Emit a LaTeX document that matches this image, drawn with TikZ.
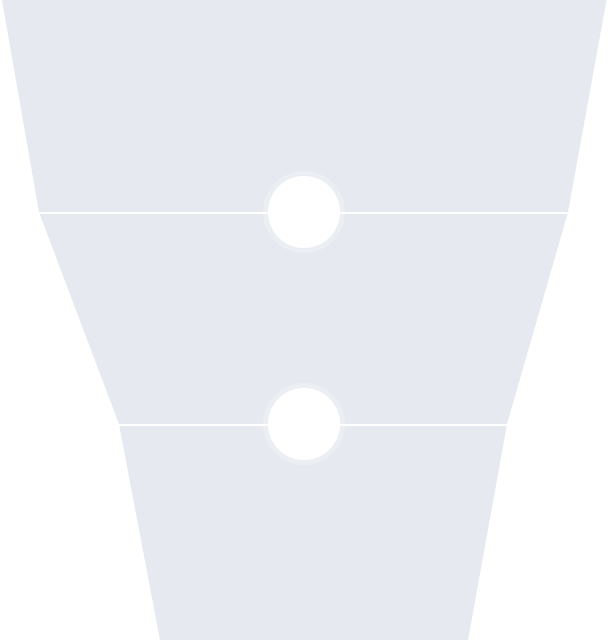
\documentclass[tikz,border=0pt]{standalone}
\definecolor{segfill}{HTML}{E6E9EF}
\definecolor{halo}{HTML}{EBEEF3}
\tikzset{
  seg/.style={fill=segfill, draw=none},
  sepline/.style={draw=white, line width=2pt},
  halocircle/.style={circle, fill=halo, minimum size=82pt, inner sep=0pt, draw=none},
  dot/.style={circle, fill=white, minimum size=72pt, inner sep=0pt, draw=none}
}
\begin{document}
\begin{tikzpicture}[x=1pt,y=-1pt]
\useasboundingbox (0,0) rectangle (608,640);
\fill[seg] (2,0) -- (606.5,0) -- (568,212) -- (39,212) -- cycle;
\fill[seg] (39,212) -- (568,212) -- (507,424) -- (119,424) -- cycle;
\fill[seg] (119,424) -- (507,424) -- (468,640) -- (160,640) -- cycle;
\node[halocircle] (h1) at (304,212) {};
\node[halocircle] (h2) at (304,424) {};
\coordinate (l1) at (39,212.5);
\coordinate (r1) at (568,212.5);
\coordinate (l2) at (119,424.5);
\coordinate (r2) at (507,424.5);
\draw[sepline] (l1) -- (r1);
\draw[sepline] (l2) -- (r2);
\node[dot] (c1) at (304,212) {};
\node[dot] (c2) at (304,424) {};
\end{tikzpicture}
\end{document}
